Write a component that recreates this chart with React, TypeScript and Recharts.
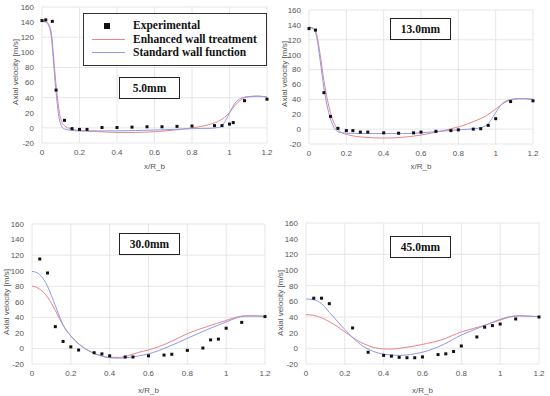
import { ComposedChart, Line, Scatter, XAxis, YAxis, CartesianGrid } from 'recharts'

// experimental points and the two CFD profiles: [x/R_b, axial velocity]
const exp5 = [[0, 142], [0.02, 143], [0.055, 141], [0.075, 50], [0.12, 10], [0.16, -1], [0.2, -2], [0.24, -2], [0.32, 0.5], [0.4, 0.5], [0.48, 1], [0.56, 1.5], [0.64, 1.5], [0.72, 2], [0.8, 2.5], [0.92, 3], [0.96, 3], [1.0, 5], [1.02, 7], [1.08, 36], [1.2, 38]]
const enh5 = [[0, 142], [0.02, 141], [0.04, 135], [0.05, 125], [0.06, 100], [0.07, 70], [0.08, 45], [0.09, 25], [0.1, 12], [0.12, 3], [0.15, -1], [0.2, -3.5], [0.3, -5], [0.4, -6], [0.5, -6], [0.6, -5], [0.7, -3], [0.8, 0], [0.85, 2], [0.9, 5], [0.95, 10], [1.0, 20], [1.03, 30], [1.06, 37], [1.1, 41], [1.15, 42], [1.2, 41]]
const std5 = [[0, 141], [0.02, 140], [0.04, 133], [0.05, 120], [0.06, 92], [0.07, 60], [0.08, 35], [0.09, 15], [0.1, 5], [0.11, 0], [0.12, -1.5], [0.15, -3], [0.2, -4], [0.3, -4], [0.5, -3.5], [0.7, -2], [0.8, -1], [0.9, -0.5], [0.95, 1], [0.98, 10], [1.0, 20], [1.03, 33], [1.06, 39], [1.1, 41.5], [1.15, 42], [1.2, 41]]

const exp13 = [[0, 135], [0.035, 133], [0.08, 49], [0.115, 17], [0.155, 1], [0.2, -2], [0.235, -2], [0.275, -4], [0.315, -4], [0.4, -5], [0.48, -5.5], [0.56, -5], [0.6, -4], [0.68, -3], [0.76, -2], [0.8, -1], [0.88, 0], [0.92, 0.5], [0.96, 5], [1.0, 14], [1.08, 37], [1.2, 38]]
const enh13 = [[0, 137], [0.02, 136], [0.04, 128], [0.06, 100], [0.08, 65], [0.1, 38], [0.12, 18], [0.14, 5], [0.16, -2], [0.2, -7], [0.3, -11], [0.4, -12], [0.5, -11], [0.6, -8], [0.7, -3], [0.8, 3], [0.9, 12], [0.95, 18], [1.0, 27], [1.05, 36], [1.1, 40], [1.15, 41], [1.2, 40]]
const std13 = [[0, 137], [0.02, 135], [0.04, 125], [0.06, 92], [0.08, 55], [0.1, 28], [0.12, 10], [0.14, 0], [0.16, -4], [0.2, -5.5], [0.3, -6], [0.5, -6], [0.6, -5], [0.7, -3], [0.8, -1], [0.9, 1], [0.95, 5], [1.0, 22], [1.03, 33], [1.07, 39], [1.12, 41], [1.2, 40]]

const exp30 = [[0.04, 115], [0.08, 97], [0.12, 28], [0.16, 9], [0.2, 2], [0.24, -2], [0.32, -5.5], [0.36, -7], [0.4, -9.5], [0.48, -11], [0.52, -11], [0.6, -9.5], [0.68, -8.5], [0.72, -7.5], [0.8, -2.5], [0.88, 0.5], [0.92, 11], [0.96, 12], [1.0, 26], [1.08, 33.5], [1.2, 41]]
const enh30 = [[0, 80], [0.02, 79], [0.04, 76], [0.06, 72], [0.08, 66], [0.1, 58], [0.12, 49], [0.14, 39], [0.16, 30], [0.2, 16], [0.25, 4], [0.3, -4], [0.35, -9], [0.4, -11.5], [0.45, -11.5], [0.5, -9], [0.55, -5], [0.6, -2], [0.7, 7], [0.8, 19], [0.9, 28], [1.0, 36], [1.05, 40], [1.1, 42], [1.15, 42], [1.2, 41]]
const std30 = [[0, 99], [0.02, 98], [0.04, 95], [0.06, 89], [0.08, 80], [0.1, 68], [0.12, 55], [0.14, 42], [0.16, 30], [0.2, 16], [0.25, 4], [0.3, -4], [0.35, -9], [0.4, -12], [0.45, -12.5], [0.5, -11.5], [0.55, -9.5], [0.6, -7], [0.7, 2], [0.8, 13], [0.9, 24], [1.0, 34], [1.05, 39], [1.1, 41.5], [1.15, 41.5], [1.2, 41]]

const exp45 = [[0.04, 64], [0.08, 64], [0.12, 57], [0.24, 26], [0.32, -5], [0.4, -9], [0.44, -10], [0.48, -11.5], [0.52, -12], [0.56, -12], [0.6, -11], [0.68, -8], [0.72, -7], [0.76, -4], [0.8, 3], [0.88, 14.5], [0.92, 27], [0.96, 29], [1.0, 31], [1.08, 37.5], [1.2, 40]]
const enh45 = [[0, 43], [0.04, 42], [0.08, 39], [0.12, 34], [0.16, 28], [0.2, 21], [0.24, 14], [0.28, 8], [0.32, 3.5], [0.36, 0.5], [0.4, -0.8], [0.44, -1], [0.48, 0], [0.52, 1.5], [0.56, 3], [0.6, 5], [0.7, 11], [0.8, 21], [0.9, 28], [1.0, 36], [1.05, 40], [1.1, 41.5], [1.15, 41], [1.2, 40.5]]
const std45 = [[0, 63], [0.04, 62], [0.08, 57], [0.12, 46], [0.16, 35], [0.2, 24], [0.24, 14], [0.28, 5], [0.32, -1], [0.36, -5], [0.4, -7.5], [0.44, -8.5], [0.48, -9], [0.52, -8.5], [0.56, -7], [0.6, -5], [0.7, 4], [0.8, 17], [0.9, 27], [1.0, 37], [1.05, 40.5], [1.1, 41.5], [1.15, 41], [1.2, 40.5]]

const xTicks = [0, 0.2, 0.4, 0.6, 0.8, 1, 1.2]
const yTicks = [-20, 0, 20, 40, 60, 80, 100, 120, 140, 160]

const RED = '#ec8387'
const BLUE = '#8c99ec'
const tickStyle = { fontSize: 8, fill: '#555', fontFamily: 'Liberation Sans, Arial, sans-serif' }

const toPts = (pairs: number[][]) => pairs.map(([x, y]) => ({ x, y }))

const Square = (props: any) => (
  <rect x={props.cx - 1.5} y={props.cy - 1.5} width={3} height={3} fill="#111" />
)

interface PanelProps {
  left: number
  top: number
  height: number
  margin: { top: number; right: number; bottom: number; left: number }
  yWidth: number
  labelOffset: number
  exp: number[][]
  enh: number[][]
  std: number[][]
}

function Panel({ left, top, height, margin, yWidth, labelOffset, exp, enh, std }: PanelProps) {
  return (
    <div style={{ position: 'absolute', left, top }}>
      <ComposedChart width={275} height={height} margin={margin}>
        <CartesianGrid stroke="#e6e6e6" />
        <XAxis
          type="number"
          dataKey="x"
          domain={[0, 1.2]}
          ticks={xTicks}
          axisLine={false}
          tickLine={false}
          tickMargin={0}
          height={30}
          tick={tickStyle}
          label={{ value: 'x/R_b', position: 'insideBottom', offset: labelOffset, style: tickStyle }}
        />
        <YAxis
          type="number"
          domain={[-20, 160]}
          ticks={yTicks}
          axisLine={false}
          tickLine={false}
          width={yWidth}
          tick={tickStyle}
          allowDataOverflow
        />
        <Line data={toPts(enh)} dataKey="y" type="monotone" stroke={RED} strokeWidth={1} dot={false} isAnimationActive={false} />
        <Line data={toPts(std)} dataKey="y" type="monotone" stroke={BLUE} strokeWidth={1} dot={false} isAnimationActive={false} />
        <Scatter data={toPts(exp)} dataKey="y" shape={Square} isAnimationActive={false} />
      </ComposedChart>
    </div>
  )
}

const yTitle = (cx: number, cy: number) => (
  <div
    style={{
      position: 'absolute',
      left: cx,
      top: cy,
      transform: 'translate(-50%, -50%) rotate(-90deg)',
      fontSize: 8,
      color: '#555',
      fontFamily: 'Liberation Sans, Arial, sans-serif',
      whiteSpace: 'nowrap',
    }}
  >
    Axial velocity [m/s]
  </div>
)

const serif = { fontFamily: 'Liberation Serif, Times New Roman, serif', fontWeight: 'bold' as const }

const tagBox = (text: string, left: number, top: number) => (
  <div
    style={{
      position: 'absolute',
      left,
      top,
      width: 59,
      height: 20,
      border: '1px solid #222',
      background: '#fff',
      ...serif,
      fontSize: 11.5,
      lineHeight: '20px',
      textAlign: 'center',
      color: '#111',
    }}
  >
    {text}
  </div>
)

export default function App() {
  return (
    <div style={{ position: 'absolute', left: 0, top: 0, width: 550, height: 396, background: '#fff', overflow: 'hidden' }}>
      <Panel left={0} top={0} height={180} margin={{ top: 7, right: 8, bottom: 7, left: 0 }} yWidth={42} labelOffset={4} exp={exp5} enh={enh5} std={std5} />
      <Panel left={275} top={0} height={180} margin={{ top: 10, right: 17, bottom: 6, left: 0 }} yWidth={34} labelOffset={5} exp={exp13} enh={enh13} std={std13} />
      <Panel left={0} top={200} height={196} margin={{ top: 24, right: 10, bottom: 2, left: 0 }} yWidth={32} labelOffset={1} exp={exp30} enh={enh30} std={std30} />
      <Panel left={275} top={200} height={196} margin={{ top: 23, right: 11, bottom: 2, left: 0 }} yWidth={31} labelOffset={1} exp={exp45} enh={enh45} std={std45} />

      {yTitle(15, 72)}
      {yTitle(284, 74)}
      {yTitle(6, 302)}
      {yTitle(280, 303)}

      <div
        style={{
          position: 'absolute',
          left: 83,
          top: 13,
          width: 182,
          height: 51,
          border: '1px solid #333',
          background: '#fff',
          ...serif,
          fontSize: 11.5,
          color: '#111',
        }}
      >
        <div style={{ position: 'absolute', left: 20, top: 9, width: 6, height: 6, background: '#111' }} />
        <div style={{ position: 'absolute', left: 8, top: 25, width: 33, height: 1.3, background: RED }} />
        <div style={{ position: 'absolute', left: 8, top: 38, width: 33, height: 1.3, background: BLUE }} />
        <div style={{ position: 'absolute', left: 49, top: 5, lineHeight: '13.5px', whiteSpace: 'nowrap' }}>
          <div>Experimental</div>
          <div>Enhanced wall treatment</div>
          <div>Standard wall function</div>
        </div>
      </div>

      {tagBox('5.0mm', 119, 77)}
      {tagBox('13.0mm', 390, 18)}
      {tagBox('30.0mm', 119, 233)}
      {tagBox('45.0mm', 390, 236)}
    </div>
  )
}
